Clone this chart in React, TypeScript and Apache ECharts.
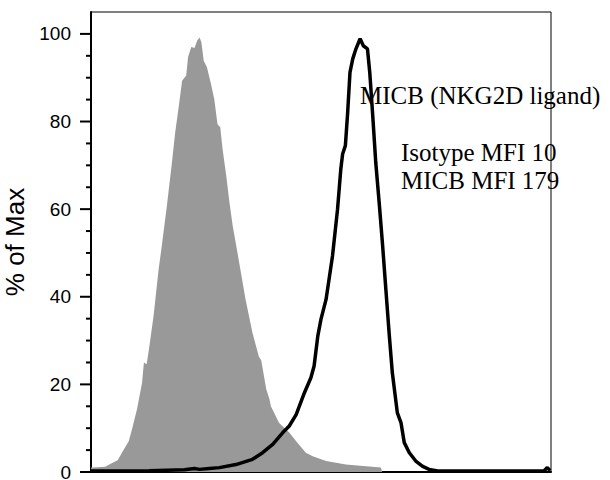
import React, { useEffect, useRef } from "react";
import * as echarts from "echarts";

// Fluorescence channel (0–1000, log-display scale) and % of max for the isotype control (gray fill)
const isoChannel = [0, 5, 31, 45, 58, 71, 82, 89, 100, 111, 115, 121, 126, 136, 147, 153, 165, 176, 183, 191, 198, 207, 211, 218, 225, 231, 236, 240, 245, 252, 261, 268, 275, 281, 286, 294, 301, 308, 317, 336, 351, 365, 370, 381, 388, 391, 409, 416, 431, 446, 467, 482, 511, 554, 598, 630, 633];
const isoValue = [1.0, 1.0, 1.2, 2.0, 2.7, 5.1, 7.0, 9.7, 14.3, 20.4, 25.0, 24.6, 28.0, 35.6, 46.3, 50.9, 60.8, 70.7, 77.5, 83.6, 89.3, 90.5, 94.7, 97.0, 96.8, 98.5, 99.2, 98.1, 93.9, 92.4, 88.5, 85.1, 79.4, 78.7, 73.7, 67.6, 61.5, 56.2, 50.9, 39.4, 31.8, 26.3, 25.5, 18.9, 16.6, 15.0, 11.2, 10.5, 9.0, 7.0, 4.4, 3.6, 2.5, 1.7, 1.3, 1.0, 0];

// MICB stained sample (black line)
const micbChannel = [0, 127, 203, 225, 236, 257, 279, 315, 351, 373, 395, 417, 431, 446, 464, 478, 485, 493, 500, 511, 525, 536, 543, 547, 553, 558, 563, 569, 576, 585, 592, 601, 606, 612, 619, 627, 634, 641, 648, 655, 666, 674, 681, 692, 706, 721, 735, 757, 887, 985, 992, 998];
const micbValue = [0.2, 0.3, 0.5, 0.8, 0.6, 0.8, 1.0, 1.7, 2.9, 4.4, 6.3, 9.0, 10.5, 13.1, 18.1, 21.5, 24.2, 31.0, 34.9, 39.4, 49.3, 60.0, 69.1, 72.6, 74.5, 82.1, 91.2, 94.3, 96.6, 98.9, 97.3, 96.6, 91.2, 82.1, 70.7, 60.8, 51.6, 41.7, 31.8, 22.7, 13.5, 11.2, 6.7, 4.4, 2.5, 1.3, 0.6, 0.2, 0.2, 0.3, 1.0, 0.3];

// Y-axis ticks
const majorTicks = [0, 20, 40, 60, 80, 100];
const minorTicks = [5, 10, 15, 25, 30, 35, 45, 50, 55, 65, 70, 75, 85, 90, 95];
const yMax = 105; // top of the frame

const yAxisName = "% of Max";
const titleText = "MICB (NKG2D ligand)";
const annotationLines = ["Isotype MFI 10", "MICB MFI 179"];

const SANS = '"Liberation Sans", Arial, Helvetica, sans-serif';
const SERIF = '"Liberation Serif", "Times New Roman", serif';

const MAJOR_LEN = 11;
const MINOR_LEN = 5;

export default function App() {
  const ref = useRef<HTMLDivElement>(null);

  useEffect(() => {
    if (!ref.current) return;
    const chart = echarts.init(ref.current, undefined, { renderer: "svg" });
    const isoData = isoChannel.map((c, i) => [c, isoValue[i]]);
    const micbData = micbChannel.map((c, i) => [c, micbValue[i]]);
    const tickData = [
      ...majorTicks.map((v) => [0, v, MAJOR_LEN]),
      ...minorTicks.map((v) => [0, v, MINOR_LEN]),
    ];
    const axisLineStyle = { color: "#000", width: 2 };

    chart.setOption({
      animation: false,
      backgroundColor: "#ffffff",
      grid: {
        left: 91,
        top: 12,
        width: 460,
        height: 460,
        show: true,
        borderColor: "#000",
        borderWidth: 1,
        backgroundColor: "transparent",
        outerBoundsMode: "none",
        containLabel: false,
      },
      xAxis: {
        type: "value",
        min: 0,
        max: 1000,
        axisLine: { show: true, lineStyle: axisLineStyle },
        axisTick: { show: false },
        axisLabel: { show: false },
        splitLine: { show: false },
      },
      yAxis: {
        type: "value",
        min: 0,
        max: yMax,
        position: "left",
        axisLine: { show: true, lineStyle: axisLineStyle },
        axisTick: { show: false },
        axisLabel: {
          customValues: majorTicks,
          color: "#000",
          fontSize: 19,
          fontFamily: SANS,
          margin: 20,
        },
        splitLine: { show: false },
        name: yAxisName,
        nameLocation: "middle",
        nameGap: 43,
        nameTextStyle: { fontSize: 26, fontFamily: SANS, color: "#000" },
      },
      series: [
        {
          type: "line",
          name: "Isotype",
          data: isoData,
          symbol: "none",
          lineStyle: { width: 0, color: "#999999" },
          areaStyle: { color: "#999999", opacity: 1 },
          z: 2,
        },
        {
          type: "line",
          name: "MICB",
          data: micbData,
          symbol: "none",
          lineStyle: { width: 3.5, color: "#000" },
          z: 3,
        },
        {
          type: "custom",
          name: "yTicks",
          data: tickData,
          clip: false,
          silent: true,
          z: 4,
          renderItem: (_params: any, api: any) => {
            const p = api.coord([api.value(0), api.value(1)]);
            const len = api.value(2);
            return {
              type: "line",
              shape: { x1: p[0] - len, y1: p[1], x2: p[0], y2: p[1] },
              style: { stroke: "#000", lineWidth: 2 },
            };
          },
        },
      ],
      graphic: [
        {
          type: "text",
          x: 360,
          y: 95,
          style: {
            text: titleText,
            fontSize: 25,
            fontFamily: SERIF,
            fill: "#000",
            verticalAlign: "middle",
          },
          z: 10,
        },
        {
          type: "text",
          x: 401,
          y: 152,
          style: {
            text: annotationLines[0],
            fontSize: 25,
            fontFamily: SERIF,
            fill: "#000",
            verticalAlign: "middle",
          },
          z: 10,
        },
        {
          type: "text",
          x: 401,
          y: 180,
          style: {
            text: annotationLines[1],
            fontSize: 25,
            fontFamily: SERIF,
            fill: "#000",
            verticalAlign: "middle",
          },
          z: 10,
        },
      ],
    });

    return () => chart.dispose();
  }, []);

  return (
    <div
      ref={ref}
      style={{ position: "fixed", left: 0, top: 0, width: 610, height: 480 }}
    />
  );
}
